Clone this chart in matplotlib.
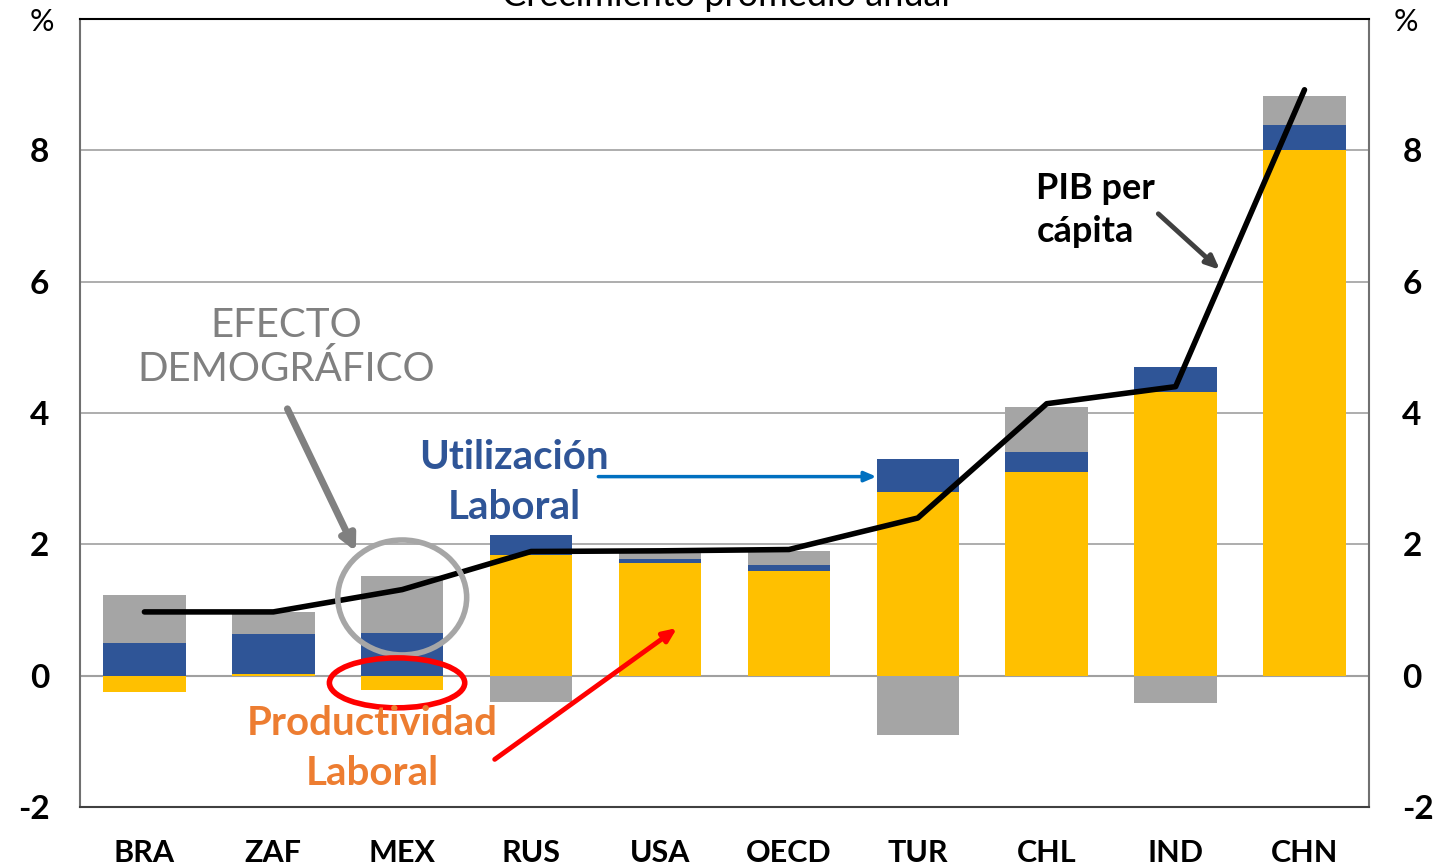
import matplotlib.pyplot as plt
import numpy as np
from matplotlib.patches import Ellipse

plt.rcParams['font.family'] = ['Lato', 'DejaVu Sans']

paises = ["BRA", "ZAF", "MEX", "RUS", "USA", "OECD", "TUR", "CHL", "IND", "CHN"]
productividad = [-0.25, 0.03, -0.22, 1.83, 1.71, 1.60, 2.79, 3.10, 4.32, 8.00]
utilizacion = [0.50, 0.61, 0.65, 0.31, 0.06, 0.09, 0.51, 0.31, 0.38, 0.38]
demografico = [0.73, 0.33, 0.87, -0.40, 0.10, 0.21, -0.90, 0.68, -0.42, 0.44]
pib_pc = [0.97, 0.97, 1.31, 1.89, 1.90, 1.92, 2.40, 4.14, 4.40, 8.92]

amarillo = '#FFC000'
azul = '#2F5597'
gris = '#A5A5A5'

fig = plt.figure(figsize=(14.41, 8.68), dpi=100)
ax = fig.add_axes([0.0555, 0.0703, 0.8945, 0.908])

x = np.arange(len(paises))
w = 0.64
pos = np.zeros(len(paises))
neg = np.zeros(len(paises))
for serie, col in [(productividad, amarillo), (utilizacion, azul), (demografico, gris)]:
    v = np.array(serie)
    base = np.where(v >= 0, pos, neg)
    ax.bar(x, v, w, bottom=base, color=col, zorder=2)
    pos = np.where(v >= 0, pos + v, pos)
    neg = np.where(v < 0, neg + v, neg)

ax.plot(x, pib_pc, color='black', lw=4, zorder=4, solid_capstyle='round')

ax.set_xlim(-0.5, len(paises) - 0.5)
ax.set_ylim(-2, 10)
ax.set_yticks([-2, 0, 2, 4, 6, 8])
ax.set_yticklabels(['-2', '0', '2', '4', '6', '8'])
ax.yaxis.grid(True, color='#A0A0A0', lw=1.2, zorder=0)
ax.set_axisbelow(True)
ax.axhline(0, color='#A0A0A0', lw=1.5, zorder=1)
ax.set_xticks(x)
ax.set_xticklabels(paises)
ax.tick_params(axis='both', length=0)
ax.tick_params(axis='x', pad=23, labelsize=22)
ax.tick_params(axis='y', pad=22, labelsize=24)
for t in ax.get_xticklabels() + ax.get_yticklabels():
    t.set_fontweight('bold')
for s in ax.spines.values():
    s.set_color('#707070')
    s.set_linewidth(1.5)
ax.spines['top'].set_color('black')
ax.spines['bottom'].set_color('#404040')

ax2 = ax.twinx()
ax2.set_ylim(-2, 10)
ax2.set_yticks([-2, 0, 2, 4, 6, 8])
ax2.set_yticklabels(['-2', '0', '2', '4', '6', '8'])
ax2.tick_params(axis='y', length=0, labelsize=24, pad=24)
for t in ax2.get_yticklabels():
    t.set_fontweight('bold')
for s in ax2.spines.values():
    s.set_visible(False)

fig.text(42 / 1441, 1 - 22 / 868, '%', fontsize=22, ha='center', va='center')
fig.text(1406 / 1441, 1 - 22 / 868, '%', fontsize=22, ha='center', va='center')
fig.text(726 / 1441, 1 - (-4) / 868, 'Crecimiento promedio anual', fontsize=26,
         ha='center', va='center')

# textos y flechas
ax.text(1.10, 5.0, 'EFECTO\nDEMOGRÁFICO', color='#808080', fontsize=29,
        ha='center', va='center', linespacing=1.2, zorder=6)
ax.annotate('', xy=(1.65, 1.85), xytext=(1.1, 4.1),
            arrowprops=dict(arrowstyle='-|>,head_width=0.45,head_length=0.9',
                            color='#808080', lw=5), zorder=6)
ax.add_patch(Ellipse((2.0, 1.19), 1.0, 1.75, fill=False, ec='#A6A6A6', lw=4, zorder=5))

ax.text(2.87, 2.94, 'Utilización\nLaboral', color=azul, fontsize=29,
        fontweight='bold', ha='center', va='center', linespacing=1.45, zorder=6)
ax.annotate('', xy=(5.7, 3.03), xytext=(3.5, 3.03),
            arrowprops=dict(arrowstyle='-|>,head_width=0.3,head_length=0.7',
                            color='#0070C0', lw=2.5), zorder=6)

ax.text(1.77, -1.11, 'Productividad\nLaboral', color='#ED7D31', fontsize=29,
        fontweight='bold', ha='center', va='center', linespacing=1.45, zorder=6)
ax.add_patch(Ellipse((1.96, -0.11), 1.05, 0.76, fill=False, ec='#FF0000', lw=4, zorder=5))
ax.annotate('', xy=(4.15, 0.75), xytext=(2.7, -1.3),
            arrowprops=dict(arrowstyle='-|>,head_width=0.35,head_length=0.8',
                            color='#FF0000', lw=3.5), zorder=6)

ax.text(6.92, 7.09, 'PIB per\ncápita', color='black', fontsize=26,
        fontweight='bold', ha='left', va='center', linespacing=1.4, zorder=6)
ax.annotate('', xy=(8.36, 6.15), xytext=(7.85, 7.06),
            arrowprops=dict(arrowstyle='-|>,head_width=0.35,head_length=0.8',
                            color='#404040', lw=3.5), zorder=6)

fig.savefig('out.png', dpi=100)
